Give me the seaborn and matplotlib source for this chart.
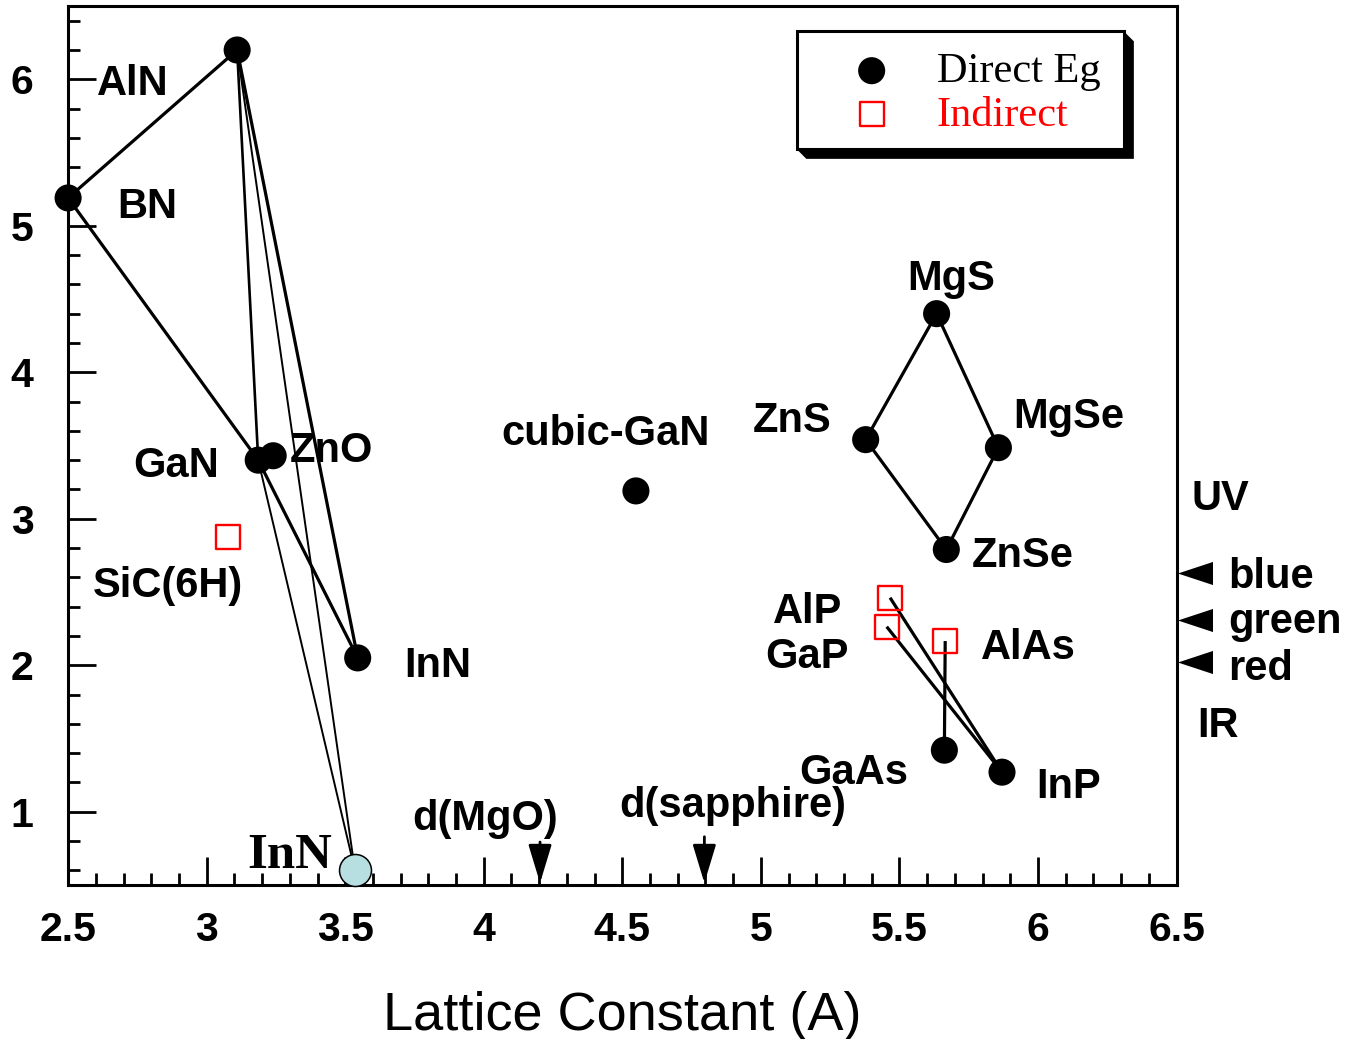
import matplotlib
matplotlib.use("Agg")
import matplotlib.pyplot as plt
from matplotlib.patches import Rectangle, Polygon
from matplotlib.path import Path
from matplotlib.ticker import MultipleLocator, FormatStrFormatter
import pandas as pd
import seaborn as sns

# ---- data: lattice constant (A) and band gap (eV) ----
direct_names = ["AlN", "BN", "GaN", "ZnO", "InN", "cubic-GaN", "MgS", "ZnS",
                "MgSe", "ZnSe", "GaAs", "InP"]
direct_a = [3.110, 2.500, 3.186, 3.240, 3.545, 4.549, 5.634, 5.378,
            5.857, 5.669, 5.662, 5.870]
direct_eg = [6.20, 5.19, 3.40, 3.43, 2.05, 3.19, 4.40, 3.54,
             3.485, 2.79, 1.42, 1.27]

indirect_names = ["SiC(6H)", "AlP", "GaP", "AlAs"]
indirect_a = [3.076, 5.466, 5.454, 5.665]
indirect_eg = [2.877, 2.461, 2.263, 2.165]

# revised InN gap
innew_name = ["InN*"]
innew_a = [3.535]
innew_eg = [0.60]

# alloy tie lines
thick_links = [("AlN", "BN"), ("BN", "GaN"), ("AlN", "InN"), ("GaN", "InN"),
               ("MgS", "ZnS"), ("MgS", "MgSe"), ("ZnS", "ZnSe"), ("MgSe", "ZnSe"),
               ("AlP", "InP"), ("GaP", "InP"), ("AlAs", "GaAs")]
mid_links = [("AlN", "GaN")]
thin_links = [("AlN", "InN*"), ("GaN", "InN*")]

# substrate lattice spacings
substrate_names = ["d(MgO)", "d(sapphire)"]
substrate_a = [4.203, 4.796]

# visible-light photon energies
band_names = ["blue", "green", "red"]
band_eg = [2.63, 2.31, 2.02]

# ---- label placement (x, y baseline, alignment) ----
label_layout = {
    "AlN": (2.604, 5.892, "left"),
    "BN": (2.678, 5.050, "left"),
    "GaN": (2.735, 3.287, "left"),
    "ZnO": (3.301, 3.389, "left"),
    "SiC(6H)": (2.590, 2.466, "left"),
    "InN": (3.712, 1.919, "left"),
    "cubic-GaN": (4.438, 3.503, "center"),
    "MgS": (5.687, 4.561, "center"),
    "ZnS": (5.111, 3.594, "center"),
    "MgSe": (5.909, 3.617, "left"),
    "ZnSe": (5.761, 2.672, "left"),
    "AlP": (5.170, 2.286, "center"),
    "GaP": (5.165, 1.979, "center"),
    "AlAs": (5.794, 2.040, "left"),
    "GaAs": (5.335, 1.187, "center"),
    "InP": (5.995, 1.091, "left"),
}
substrate_label_layout = [(4.004, 0.875), (4.897, 0.962)]
substrate_arrow_top = [0.793, 0.829]
band_label_layout = [(6.687, 2.525), (6.687, 2.222), (6.687, 1.899)]
region_labels = [("UV", 6.555, 3.059), ("IR", 6.573, 1.512)]

# ---- figure ----
sns.set_theme(style="ticks")
plt.rcParams["font.family"] = ["Liberation Sans", "DejaVu Sans"]
plt.rcParams["text.color"] = "black"
plt.rcParams["xtick.labelcolor"] = "black"
plt.rcParams["ytick.labelcolor"] = "black"

W, H = 1361, 1039
fig = plt.figure(figsize=(W / 100, H / 100), dpi=100)
ax_l, ax_r, ax_t, ax_b = 68.1, 1176.6, 6.05, 884.95
ax = fig.add_axes([ax_l / W, 1 - ax_b / H, (ax_r - ax_l) / W, (ax_b - ax_t) / H])


def axfrac(px, py):
    return (px - ax_l) / (ax_r - ax_l), (ax_b - py) / (ax_b - ax_t)


pos = {}
for n, a, e in zip(direct_names, direct_a, direct_eg):
    pos[n] = (a, e)
for n, a, e in zip(indirect_names, indirect_a, indirect_eg):
    pos[n] = (a, e)
for n, a, e in zip(innew_name, innew_a, innew_eg):
    pos[n] = (a, e)


def link_frame(links):
    rows = []
    for i, (p, q) in enumerate(links):
        for n in (p, q):
            rows.append({"link": i, "a": pos[n][0], "eg": pos[n][1]})
    return pd.DataFrame(rows)


for links, lw in ((thick_links, 2.3), (mid_links, 1.9), (thin_links, 1.4)):
    sns.lineplot(data=link_frame(links), x="a", y="eg", units="link",
                 estimator=None, sort=False, color="black", lw=lw,
                 solid_capstyle="butt", zorder=2, ax=ax)

sns.scatterplot(x=direct_a, y=direct_eg, s=380, color="black",
                edgecolor="none", linewidth=0, zorder=3, clip_on=False,
                label="Direct Eg", ax=ax)
sns.scatterplot(x=indirect_a, y=indirect_eg, marker="s", s=300, color="red",
                facecolor="none", edgecolor="red", linewidth=1.7, zorder=3,
                label="Indirect", ax=ax)
sns.scatterplot(x=innew_a, y=innew_eg, s=530, color="#b7dfe1",
                edgecolor="black", linewidth=1.1, zorder=4, clip_on=False,
                legend=False, ax=ax)

# axes styling
ax.set_xlim(2.5, 6.5)
ax.set_ylim(0.5, 6.5)
ax.xaxis.set_major_locator(MultipleLocator(0.5))
ax.xaxis.set_minor_locator(MultipleLocator(0.1))
ax.yaxis.set_major_locator(MultipleLocator(1))
ax.yaxis.set_minor_locator(MultipleLocator(0.2))
ax.xaxis.set_major_formatter(FormatStrFormatter("%g"))
ax.yaxis.set_major_formatter(FormatStrFormatter("%g"))
ax.set_yticks([1, 2, 3, 4, 5, 6])
ax.tick_params(which="both", direction="in", top=False, right=False,
               color="black", width=2.0, labelcolor="black")
ax.tick_params(which="major", length=20, labelsize=29.5)
ax.tick_params(which="minor", length=8.6)
ax.tick_params(axis="x", which="major", pad=19)
ax.tick_params(axis="y", which="major", pad=25)
for lbl in ax.get_xticklabels() + ax.get_yticklabels():
    lbl.set_fontweight("bold")
for sp in ax.spines.values():
    sp.set_color("black")
    sp.set_linewidth(2.2)
ax.set_ylabel("")
ax.set_xlabel("Lattice Constant (A)", fontsize=39, fontweight="normal",
              color="black", labelpad=30)

# compound labels
for name, (x, y, ha) in label_layout.items():
    ax.text(x, y, name, ha=ha, va="baseline", fontsize=30,
            fontweight="bold", color="black", clip_on=False, zorder=5)
ax.text(3.451, 0.618, "InN", ha="right", va="baseline", fontsize=36.5,
        fontweight="bold", family="Liberation Serif", color="black", zorder=5)

# substrate markers
for a, name, (tx, ty), top in zip(substrate_a, substrate_names,
                                  substrate_label_layout, substrate_arrow_top):
    ax.annotate("", xy=(a, 0.513), xytext=(a, top),
                arrowprops=dict(arrowstyle="-|>,head_length=1.19,head_width=0.36",
                                mutation_scale=20, color="black", lw=2,
                                shrinkA=0, shrinkB=0))
    ax.text(tx, ty, name, ha="center", va="baseline", fontsize=30,
            fontweight="bold", color="black")

# spectral markers on the right edge
tri = Path([(-1, 0), (1, 0.66), (1, -0.66), (-1, 0)],
           [Path.MOVETO, Path.LINETO, Path.LINETO, Path.CLOSEPOLY])
ax.scatter([6.565] * len(band_eg), band_eg, marker=tri, s=635,
           color="black", linewidths=0, clip_on=False, zorder=5)
for name, (tx, ty) in zip(band_names, band_label_layout):
    ax.text(tx, ty, name, ha="left", va="baseline", fontsize=30,
            fontweight="bold", color="black", clip_on=False)
for name, tx, ty in region_labels:
    ax.text(tx, ty, name, ha="left", va="baseline", fontsize=30,
            fontweight="bold", color="black", clip_on=False)

# legend box with extruded shadow
bx0, by0, bx1, by1, d = 796.5, 31.5, 1123.5, 148.5, 10
x0, y0 = axfrac(bx0, by1)
x1, y1 = axfrac(bx1, by0)
shadow = [axfrac(bx1, by0), axfrac(bx1 + d, by0 + d), axfrac(bx1 + d, by1 + d),
          axfrac(bx0 + d, by1 + d), axfrac(bx0, by1)]
ax.add_patch(Polygon(shadow, closed=True, transform=ax.transAxes,
                     facecolor="black", edgecolor="black", lw=0.5,
                     zorder=6, clip_on=False))
ax.add_patch(Rectangle((x0, y0), x1 - x0, y1 - y0, transform=ax.transAxes,
                       facecolor="white", edgecolor="black", lw=2.2,
                       zorder=6.5, clip_on=False))
leg = ax.legend(loc="center left", bbox_to_anchor=axfrac(829.3, 93.35),
                borderaxespad=0, borderpad=0, frameon=False,
                prop={"family": "Liberation Serif", "size": 30.5},
                handlelength=2.0, handletextpad=0.536, labelspacing=0.12,
                scatterpoints=1, labelcolor=["black", "red"])
leg.set_zorder(7)

fig.savefig("out.png", dpi=100)
